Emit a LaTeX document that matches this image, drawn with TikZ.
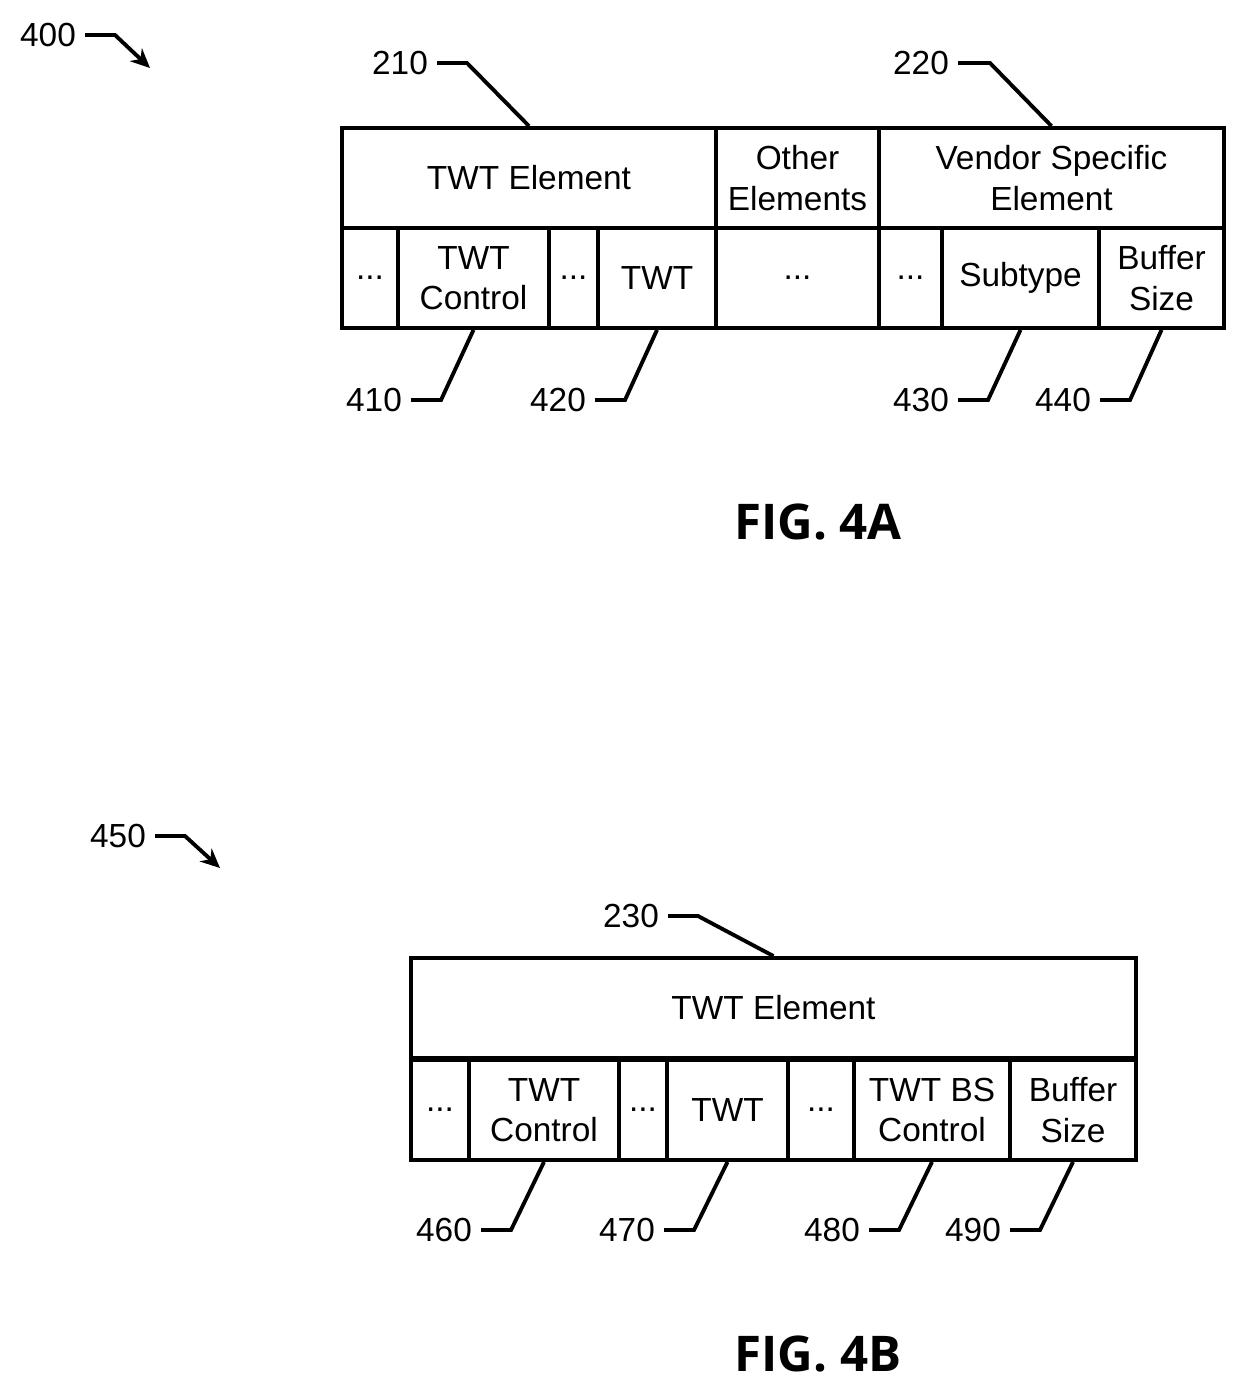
\documentclass[tikz,border=0pt]{standalone}
\usepackage{fontspec}
\setmainfont{Liberation Sans}
\newfontfamily\figfont{Open Sans}
\usetikzlibrary{arrows.meta}
\begin{document}
\begin{tikzpicture}[x=0.02cm,y=-0.02cm,
  every node/.style={font=\fontsize{19}{23}\selectfont},
  fld/.style={draw,line width=2.2pt,inner sep=0pt,align=center,minimum height=2cm},
  lead/.style={line width=2.2pt},
  num/.style={anchor=east,inner sep=5pt},
  fig/.style={font=\figfont\fontsize{28}{30}\selectfont\bfseries}]
\useasboundingbox (0,0) rectangle (1249,1392);
% field boxes: \fldbox{name}{x1}{x2}{ymid}{text}
\newcommand\fldbox[5]{\node[fld,minimum width={(#3-#2)*0.02cm}] (#1) at ({(#2+#3)/2},#4) {#5};}

%FIG. 4A
\fldbox{twt}{342}{716}{178}{TWT Element}
\fldbox{oth}{716}{879}{178}{Other\\Elements}
\fldbox{ven}{879}{1224}{178}{Vendor Specific\\Element}
\fldbox{a1}{342}{398}{278}{...}
\fldbox{a2}{398}{549}{278}{TWT\\Control}
\fldbox{a3}{549}{598}{278}{...}
\fldbox{a4}{598}{716}{278}{TWT}
\fldbox{a5}{716}{879}{278}{...}
\fldbox{a6}{879}{942}{278}{...}
\fldbox{a7}{942}{1099}{278}{Subtype}
\fldbox{a8}{1099}{1224}{278}{Buffer\\Size}

\node[num] (n210) at (437,63) {210};
\node[num] (n220) at (958,63) {220};
\node[num] (n410) at (411,400) {410};
\node[num] (n420) at (595,400) {420};
\node[num] (n430) at (958,400) {430};
\node[num] (n440) at (1100,400) {440};
\draw[lead] (n210.east) -- ++(30,0) -- (twt.north);
\draw[lead] (n220.east) -- ++(32,0) -- (ven.north);
\draw[lead] (n410.east) -- ++(30,0) -- (a2.south);
\draw[lead] (n420.east) -- ++(30,0) -- (a4.south);
\draw[lead] (n430.east) -- ++(30,0) -- (a7.south);
\draw[lead] (n440.east) -- ++(30,0) -- (a8.south);

\node[num] (n400) at (85,35) {400};
\coordinate (p400) at (150,68);
\draw[lead,-{Stealth[length=11pt,width=10pt]}] (n400.east) -- ++(30,0) -- (p400);
\node[fig] (f4a) at (818,522) {FIG. 4A};

%FIG. 4B
\fldbox{tw2}{411}{1136}{1008}{TWT Element}
\fldbox{b1}{411}{469}{1110}{...}
\fldbox{b2}{469}{619}{1110}{TWT\\Control}
\fldbox{b3}{619}{667}{1110}{...}
\fldbox{b4}{667}{788}{1110}{TWT}
\fldbox{b5}{788}{854}{1110}{...}
\fldbox{b6}{854}{1010}{1110}{TWT BS\\Control}
\fldbox{b7}{1010}{1136}{1110}{Buffer\\Size}

\node[num] (n230) at (668,916) {230};
\node[num] (n460) at (481,1230) {460};
\node[num] (n470) at (664,1230) {470};
\node[num] (n480) at (869,1230) {480};
\node[num] (n490) at (1010,1230) {490};
\draw[lead] (n230.east) -- ++(30,0) -- (tw2.north);
\draw[lead] (n460.east) -- ++(30,0) -- (b2.south);
\draw[lead] (n470.east) -- ++(30,0) -- (b4.south);
\draw[lead] (n480.east) -- ++(30,0) -- (b6.south);
\draw[lead] (n490.east) -- ++(30,0) -- (b7.south);

\node[num] (n450) at (155,836) {450};
\coordinate (p450) at (220,868);
\draw[lead,-{Stealth[length=11pt,width=10pt]}] (n450.east) -- ++(30,0) -- (p450);
\node[fig] (f4b) at (818,1354) {FIG. 4B};
\end{tikzpicture}
\end{document}
